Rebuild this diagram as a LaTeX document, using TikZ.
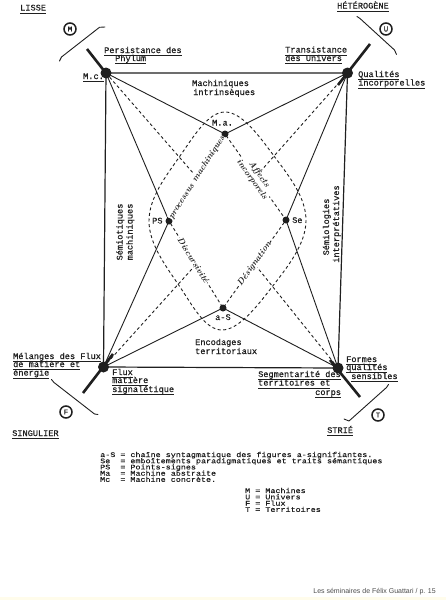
\documentclass[tikz,border=0pt]{standalone}
\usepackage{fontspec}
\setmonofont[FakeBold=0.6]{Liberation Mono}
\newfontfamily\legfont[FakeStretch=1.2,FakeBold=0.6]{Liberation Mono}
\newfontfamily\footfont{Liberation Sans}
\usetikzlibrary{calc}
\definecolor{inkc}{rgb}{0.12,0.12,0.12}
\definecolor{footc}{rgb}{0.3,0.3,0.3}
\definecolor{stripc}{rgb}{1,0.99,0.92}
\newcommand\undl[1]{\underline{\raisebox{0pt}[\height][0.8pt]{#1}}}
\begin{document}
\begin{tikzpicture}[x=1pt,y=-1pt,
  sq/.style={draw=inkc,line width=1.2pt},
  sol/.style={draw=inkc,line width=0.9pt},
  dsh/.style={draw=inkc,line width=0.9pt,dash pattern=on 3pt off 2.6pt},
  rad/.style={draw=inkc,line width=2.6pt},
  brk/.style={draw=inkc,line width=0.9pt,line join=round,line cap=round},
  bigdot/.style={circle,fill=inkc,minimum size=11pt,inner sep=0pt},
  smdot/.style={circle,fill=inkc,minimum size=7pt,inner sep=0pt},
  lbl/.style={font=\ttfamily\fontsize{8.6}{8}\selectfont,text=inkc,inner sep=0pt,anchor=base west},
  rlbl/.style={font=\ttfamily\fontsize{8.6}{8}\selectfont,text=inkc,inner sep=0pt,anchor=base,rotate=90},
  leg/.style={font=\legfont\fontsize{7}{6.2}\selectfont,text=inkc,inner sep=0pt,anchor=base west},
  elab/.style={font=\bfseries\itshape\fontsize{8.6}{7.4}\selectfont,text=inkc,sloped,fill=white,inner sep=0.4pt,align=center},
  circl/.style={circle,draw=inkc,line width=1.5pt,minimum size=12pt,inner sep=0pt,font=\ttfamily\fontsize{7.5}{7}\selectfont,text=inkc},
]
\useasboundingbox (0,0) rectangle (446,600);
\fill[stripc] (0,597) rectangle (446,600);

% main points
\coordinate (TL) at (106,73);
\coordinate (TR) at (347.5,73);
\coordinate (BR) at (338,368);
\coordinate (BL) at (103.5,367);
\coordinate (Ma) at (225,134);
\coordinate (PS) at (169,221);
\coordinate (Se) at (286,220);
\coordinate (aS) at (223,308);
\coordinate (mMP) at ($(Ma)!0.5!(PS)$);
\coordinate (mMS) at ($(Ma)!0.5!(Se)$);
\coordinate (mPA) at ($(PS)!0.5!(aS)$);
\coordinate (mSA) at ($(Se)!0.5!(aS)$);

% square
\draw[sq] (TL) -- (TR) -- (BR) -- (BL) -- cycle;

% solid inner lines
\draw[sol] (TL) -- (Ma) -- (TR);
\draw[sol] (TL) -- (PS) -- (BL);
\draw[sol] (TR) -- (Se) -- (BR);
\draw[sol] (BL) -- (aS) -- (BR);

% dashed diamond
\draw[dsh] (Ma) -- (PS) -- (aS) -- (Se) -- cycle;

% dashed from corners
\draw[dsh] (TL) -- (mMP);
\draw[dsh] (TR) -- (mMS);
\draw[dsh] (BL) -- (mPA);
\draw[dsh] (BR) -- (mSA);

% dashed rounded contour
\draw[dsh] plot[smooth cycle, tension=0.65] coordinates {
  (225,112) (274,156) (306,221) (272,287) (222,330) (180,287) (149,221) (180,156)};

% thick radial strokes
\coordinate (rTLa) at (87,49);   \coordinate (rTLb) at (109,77);
\coordinate (rTRa) at (370,44);  \coordinate (rTRb) at (338,85);
\coordinate (rBLa) at (113,354); \coordinate (rBLb) at (83,393);
\coordinate (rBRa) at (330,360); \coordinate (rBRb) at (360,397);
\draw[rad] (rTLa) -- (rTLb);
\draw[rad] (rTRa) -- (rTRb);
\draw[rad] (rBLa) -- (rBLb);
\draw[rad] (rBRa) -- (rBRb);

% brackets
\draw[brk] (59.5,61) -- (61.5,57) -- (99.5,27.3) -- (105,27);
\draw[brk] (357,16.5) -- (360,18.5) -- (394.5,50) -- (396.5,54.5);
\draw[brk] (51.5,379.5) -- (54,382.5) -- (94.5,414) -- (98,414.5);
\draw[brk] (344,419) -- (349,421) -- (386.5,387.5) -- (388.5,384.5);

% dots
\node[bigdot] (TLd) at (TL) {};
\node[bigdot] (TRd) at (TR) {};
\node[bigdot] (BRd) at (BR) {};
\node[bigdot] (BLd) at (BL) {};
\node[smdot] (Mad) at (Ma) {};
\node[smdot] (PSd) at (PS) {};
\node[smdot] (Sed) at (Se) {};
\node[smdot] (aSd) at (aS) {};

% edge labels
\path (PS) -- node[elab] (lpm) {processus machiniques} (Ma);
\path (Ma) -- node[elab] (lai) {Affects\\incorporels} (Se);
\path (PS) -- node[elab,pos=0.45] (ldi) {Discursivité} (aS);
\path (aS) -- node[elab] (lde) {Désignation} (Se);

% circled letters
\node[circl] (cM) at (70,29) {M};
\node[circl] (cU) at (386,29) {U};
\node[circl] (cF) at (66,412) {F};
\node[circl] (cT) at (378,415) {T};

% corner / outer labels
\node[lbl] (lisse) at (20,10.5) {\undl{LISSE}};
\node[lbl] (hetero) at (337,8.5) {\undl{HÉTÉROGÈNE}};
\node[lbl] (pers1) at (104,53) {\undl{Persistance des}};
\node[lbl] (pers2) at (115,61) {\undl{Phylum}};
\node[lbl] (mc) at (83,79) {\undl{M.c.}};
\node[lbl] (mach1) at (192,86) {Machiniques};
\node[lbl] (mach2) at (193,95) {intrinsèques};
\node[lbl] (tran1) at (285,52.5) {\undl{Transistance}};
\node[lbl] (tran2) at (285,61) {\undl{des Univers}};
\node[lbl] (qual1) at (358,77) {\undl{Qualités}};
\node[lbl] (qual2) at (358,85.5) {\undl{incorporelles}};
\node[lbl] (lma) at (212,125.5) {M.a.};
\node[lbl] (lps) at (152,223.5) {PS};
\node[lbl] (lse) at (292,223) {Se};
\node[lbl] (las) at (215,320) {a-S};
\node[rlbl] (sm1) at (122.5,232) {Sémiotiques};
\node[rlbl] (sm2) at (132.5,232) {machiniques};
\node[rlbl] (si1) at (329,227) {Sémiologies};
\node[rlbl] (si2) at (339,224) {interprétatives};
\node[lbl] (enc1) at (195,345) {Encodages};
\node[lbl] (enc2) at (195,354) {territoriaux};
\node[lbl] (mel1) at (13,359) {\undl{Mélanges des Flux}};
\node[lbl] (mel2) at (13,367) {\undl{de matière et}};
\node[lbl] (mel3) at (13,375.5) {\undl{énergie}};
\node[lbl] (flx1) at (112,375) {\undl{Flux}};
\node[lbl] (flx2) at (112,383) {\undl{matière}};
\node[lbl] (flx3) at (112,392) {\undl{signalétique}};
\node[lbl] (seg1) at (258,377) {\undl{Segmentarité des}};
\node[lbl] (seg2) at (258,385.5) {\undl{territoires et}};
\node[lbl] (seg3) at (315,395) {\undl{corps}};
\node[lbl] (frm1) at (346,362) {\undl{Formes}};
\node[lbl] (frm2) at (346,370) {\undl{qualités}};
\node[lbl] (frm3) at (351,379) {\undl{sensibles}};
\node[lbl] (sing) at (12,436) {\undl{SINGULIER}};
\node[lbl] (strie) at (327,433) {\undl{STRIÉ}};

% legend
\node[leg] (lg1) at (100,457) {a-S = chaîne syntagmatique des figures a-signifiantes.};
\node[leg] (lg2) at (100,463.2) {Se~~= emboîtements paradigmatiques et traits sémantiques};
\node[leg] (lg3) at (100,469.4) {PS~~= Points-signes};
\node[leg] (lg4) at (100,475.6) {Ma~~= Machine abstraite};
\node[leg] (lg5) at (100,481.8) {Mc~~= Machine concrète.};
\node[leg] (lh1) at (245,493) {M = Machines};
\node[leg] (lh2) at (245,499.3) {U = Univers};
\node[leg] (lh3) at (245,505.6) {F = Flux};
\node[leg] (lh4) at (245,511.9) {T = Territoires};

% footer
\node[font=\footfont\fontsize{7}{7}\selectfont,text=footc,inner sep=0pt,anchor=base east] (foot) at (436,593) {Les séminaires de Félix Guattari / p. 15};
\end{tikzpicture}
\end{document}
